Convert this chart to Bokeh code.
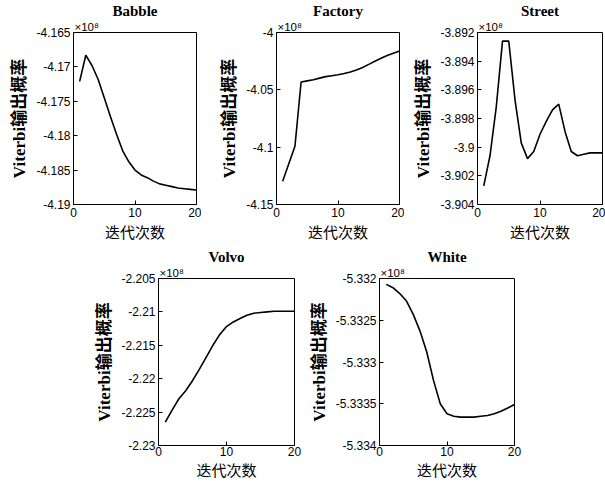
from bokeh.plotting import figure
from bokeh.layouts import row, column
from bokeh.models import FixedTicker, Range1d, Title
from bokeh.embed import file_html
from bokeh.resources import INLINE

iters = list(range(1, 21))

babble = [-4.1721, -4.1683, -4.1698, -4.1718, -4.1745, -4.1772, -4.1798, -4.1822, -4.1838, -4.1850,
          -4.1857, -4.1861, -4.1866, -4.1870, -4.1872, -4.1874, -4.1876, -4.1877, -4.1878, -4.1879]
factory = [-4.1297, -4.1145, -4.0992, -4.0432, -4.0422, -4.0412, -4.0398, -4.0385, -4.0377, -4.0369,
           -4.0358, -4.0345, -4.0327, -4.0305, -4.0278, -4.0250, -4.0225, -4.0200, -4.0180, -4.0162]
street = [-3.9027, -3.9006, -3.8972, -3.8926, -3.8926, -3.8967, -3.8997, -3.9008, -3.9003, -3.8991,
          -3.8982, -3.8974, -3.8970, -3.8989, -3.9003, -3.9006, -3.9005, -3.9004, -3.9004, -3.9004]
volvo = [-2.2265, -2.2247, -2.2230, -2.2218, -2.2203, -2.2186, -2.2168, -2.2150, -2.2134, -2.2122,
         -2.2115, -2.2110, -2.2105, -2.2102, -2.2101, -2.2100, -2.2099, -2.2099, -2.2099, -2.2099]
white = [-5.33207, -5.33211, -5.33218, -5.33227, -5.33243, -5.33263, -5.33288, -5.33322, -5.33350, -5.33362,
         -5.33365, -5.33366, -5.33366, -5.33366, -5.33365, -5.33364, -5.33362, -5.33359, -5.33355, -5.33351]

x_ticks = [0, 10, 20]
x_tick_labels = ["0", "10", "20"]

babble_ticks = [-4.19, -4.185, -4.18, -4.175, -4.17, -4.165]
babble_labels = ["-4.19", "-4.185", "-4.18", "-4.175", "-4.17", "-4.165"]
factory_ticks = [-4.15, -4.1, -4.05, -4.0]
factory_labels = ["-4.15", "-4.1", "-4.05", "-4"]
street_ticks = [-3.904, -3.902, -3.900, -3.898, -3.896, -3.894, -3.892]
street_labels = ["-3.904", "-3.902", "-3.9", "-3.898", "-3.896", "-3.894", "-3.892"]
volvo_ticks = [-2.23, -2.225, -2.22, -2.215, -2.21, -2.205]
volvo_labels = ["-2.23", "-2.225", "-2.22", "-2.215", "-2.21", "-2.205"]
white_ticks = [-5.334, -5.3335, -5.333, -5.3325, -5.332]
white_labels = ["-5.334", "-5.3335", "-5.333", "-5.3325", "-5.332"]

titles = ["Babble", "Factory", "Street", "Volvo", "White"]
y_label = "Viterbi输出概率"
x_label = "迭代次数"
scale_text = "×10⁸"

TICK_FONT = "Liberation Sans"
YLABEL_FONT = "Liberation Serif, Noto Sans CJK SC"


def make(title, ys, ticks, labels, w, h, bl, br, bt, bb, xstand):
    p = figure(width=w, height=h,
               x_range=Range1d(0, 20), y_range=Range1d(ticks[0], ticks[-1]),
               output_backend="svg", toolbar_location=None,
               min_border_left=bl, min_border_right=br,
               min_border_top=bt, min_border_bottom=bb)
    p.line(iters, ys, line_color="black", line_width=1.6)
    p.xgrid.visible = False
    p.ygrid.visible = False
    p.outline_line_color = "black"
    p.outline_line_width = 1
    p.outline_line_alpha = 1
    p.background_fill_color = "white"
    p.border_fill_color = "white"

    p.add_layout(Title(text=scale_text, align="left", text_font=TICK_FONT,
                       text_font_size="11.5px", text_font_style="normal",
                       text_color="black", standoff=0, offset=1), "above")
    p.add_layout(Title(text=title, align="center", text_font="Liberation Serif",
                       text_font_size="15px", text_font_style="bold",
                       text_color="black", standoff=0, offset=0), "above")

    for ax in (p.xaxis[0], p.yaxis[0]):
        ax.axis_line_color = "black"
        ax.major_tick_line_color = "black"
        ax.major_tick_in = 4
        ax.major_tick_out = 0
        ax.minor_tick_line_color = None
        ax.major_label_text_font = TICK_FONT
        ax.major_label_text_font_size = "12px"
        ax.major_label_text_color = "black"
        ax.axis_label_text_color = "black"
        ax.major_label_standoff = 3
    p.xaxis[0].ticker = FixedTicker(ticks=x_ticks)
    p.xaxis[0].major_label_overrides = {t: l for t, l in zip(x_ticks, x_tick_labels)}
    p.xaxis[0].major_label_standoff = xstand
    p.yaxis[0].ticker = FixedTicker(ticks=ticks)
    p.yaxis[0].major_label_overrides = {t: l for t, l in zip(ticks, labels)}

    p.xaxis[0].axis_label = x_label
    p.xaxis[0].axis_label_text_font = "Noto Sans CJK SC"
    p.xaxis[0].axis_label_text_font_style = "normal"
    p.xaxis[0].axis_label_text_font_size = "15px"
    p.xaxis[0].axis_label_standoff = 1 if xstand > 2 else 0

    p.yaxis[0].axis_label = y_label
    p.yaxis[0].axis_label_text_font = YLABEL_FONT
    p.yaxis[0].axis_label_text_font_style = "bold"
    p.yaxis[0].axis_label_text_font_size = "17px"
    p.yaxis[0].axis_label_standoff = 4
    return p


p1 = make(titles[0], babble, babble_ticks, babble_labels, 201, 246, 73, 5, 31, 42, 3)
p2 = make(titles[1], factory, factory_ticks, factory_labels, 203, 246, 75, 5, 31, 42, 3)
p3 = make(titles[2], street, street_ticks, street_labels, 201, 246, 73, 3, 31, 42, 3)
p4 = make(titles[3], volvo, volvo_ticks, volvo_labels, 304, 236, 158, 10, 31, 36, 1)
p5 = make(titles[4], white, white_ticks, white_labels, 220, 236, 75, 10, 31, 36, 1)

layout = column(row(p1, p2, p3), row(p4, p5))

open("out.html", "w").write(file_html(layout, INLINE))
